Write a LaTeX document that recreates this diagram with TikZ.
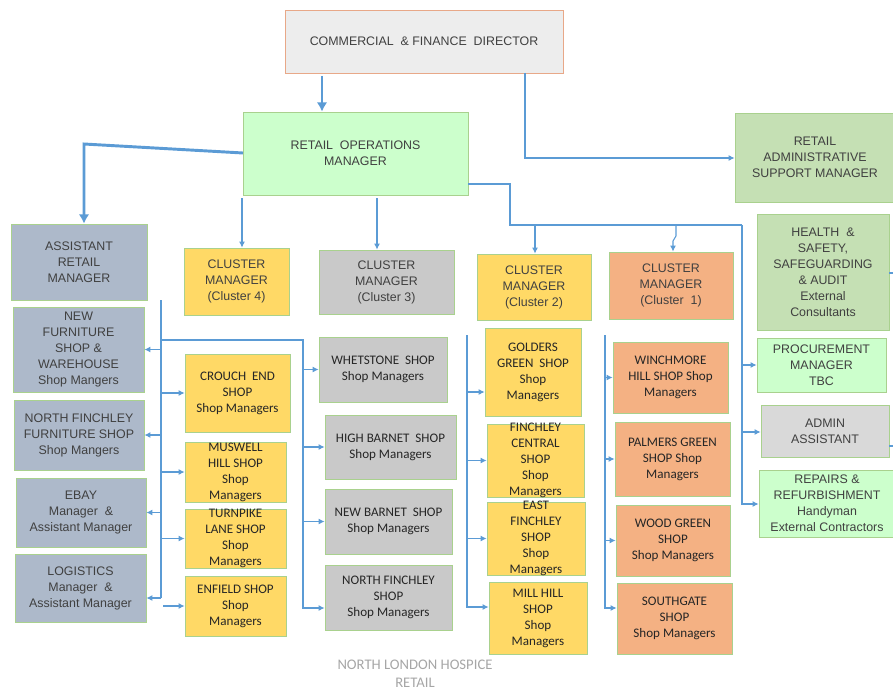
\documentclass[tikz,border=0pt]{standalone}
\usepackage{fontspec}
\setmainfont{Liberation Sans}
\newfontfamily\calf{Carlito}
\usetikzlibrary{arrows.meta,fit,shadows,calc}
\definecolor{lnblue}{HTML}{5B9BD5}
\definecolor{bordgreen}{HTML}{A9D18E}
\definecolor{bordorange}{HTML}{E8A888}
\definecolor{cfdfill}{HTML}{EDEDED}
\definecolor{mint}{HTML}{CCFFCC}
\definecolor{sage}{HTML}{C5E0B4}
\definecolor{slate}{HTML}{ADB9CA}
\definecolor{gold}{HTML}{FFD966}
\definecolor{midgray}{HTML}{C9C9C9}
\definecolor{peach}{HTML}{F4B183}
\definecolor{lightgray}{HTML}{D9D9D9}
\definecolor{txtgray}{HTML}{404040}
\definecolor{txtdark}{HTML}{262626}
\definecolor{foottxt}{HTML}{A6A6A6}
\tikzset{
  box/.style={draw=bordgreen, line width=0.6pt, inner sep=0pt,
    drop shadow={opacity=0.25, shadow xshift=0.9pt, shadow yshift=-0.9pt}},
  lbl/.style={align=center, text=txtgray, font=\fontsize{9.3}{12}\selectfont, inner sep=0pt},
  shoplbl/.style={align=center, text=txtdark, font=\calf\fontsize{9.8}{12}\selectfont, inner sep=0pt},
  ln/.style={draw=lnblue, line width=0.8pt},
  arr/.style={draw=lnblue, line width=0.8pt, -{Latex[length=4.5pt,width=4.5pt]}},
  thk/.style={draw=lnblue, line width=2.2pt, -{Latex[length=7pt,width=8pt]}},
}
\newcommand\orgbox[8]{%
  \node[box, fill=#2, fit={(#3,#4)(#5,#6)}] (#1) {};
  \node[#7] (#1-t) at (#1.center) {#8};
}
\begin{document}
\begin{tikzpicture}[x=0.75pt,y=-0.75pt]
\useasboundingbox (0,0) rectangle (893,692);

% top
\node[box, draw=bordorange, fill=cfdfill, fit={(285,10)(563,73)}] (CFD) {};
\node[lbl] (CFD-t) at (CFD.center) {COMMERCIAL \ \& FINANCE \ DIRECTOR};
\orgbox{ROM}{mint}{243}{112}{468}{195}{lbl}{RETAIL \ OPERATIONS\\MANAGER}
\orgbox{RASM}{sage}{735}{113}{895}{202}{lbl}{RETAIL\\ADMINISTRATIVE\\SUPPORT MANAGER}

% left column
\orgbox{ARM}{slate}{11}{224}{147}{300}{lbl}{ASSISTANT\\RETAIL\\MANAGER}
\orgbox{NFSW}{slate}{13}{307}{144}{392}{lbl}{NEW\\FURNITURE\\SHOP \&\\WAREHOUSE\\Shop Mangers}
\orgbox{NFFS}{slate}{14}{400}{144}{470}{lbl}{NORTH FINCHLEY\\FURNITURE SHOP\\Shop Mangers}
\orgbox{EBAY}{slate}{16}{478}{146}{547}{lbl}{EBAY\\Manager \ \&\\Assistant Manager}
\orgbox{LOG}{slate}{15}{554}{146}{622}{lbl}{LOGISTICS\\Manager \ \&\\Assistant Manager}

% cluster 4
\orgbox{C4}{gold}{184}{248}{289}{315}{lbl}{CLUSTER\\MANAGER\\(Cluster 4)}
\orgbox{CE}{gold}{185}{354}{290}{432}{shoplbl}{CROUCH \ END\\SHOP\\Shop Managers}
\orgbox{MH}{gold}{185}{442}{286}{502}{shoplbl}{MUSWELL\\HILL SHOP\\Shop\\Managers}
\orgbox{TL}{gold}{185}{509}{286}{568}{shoplbl}{TURNPIKE\\LANE SHOP\\Shop\\Managers}
\orgbox{EN}{gold}{185}{576}{286}{636}{shoplbl}{ENFIELD SHOP\\Shop\\Managers}

% cluster 3
\orgbox{C3}{midgray}{319}{250}{454}{314}{lbl}{CLUSTER\\MANAGER\\(Cluster 3)}
\orgbox{WH}{midgray}{319}{337}{447}{402}{shoplbl}{WHETSTONE \ SHOP\\Shop Managers}
\orgbox{HB}{midgray}{325}{415}{456}{479}{shoplbl}{HIGH BARNET \ SHOP\\Shop Managers}
\orgbox{NB}{midgray}{325}{489}{452}{554}{shoplbl}{NEW BARNET \ SHOP\\Shop Managers}
\orgbox{NFS}{midgray}{325}{565}{452}{630}{shoplbl}{NORTH FINCHLEY\\SHOP\\Shop Managers}

% cluster 2
\orgbox{C2}{gold}{477}{254}{591}{320}{lbl}{CLUSTER\\MANAGER\\(Cluster 2)}
\orgbox{GG}{gold}{485}{328}{581}{416}{shoplbl}{GOLDERS\\GREEN \ SHOP\\Shop\\Managers}
\orgbox{FC}{gold}{487}{424}{584}{497}{shoplbl}{FINCHLEY\\CENTRAL\\SHOP\\Shop\\Managers}
\orgbox{EF}{gold}{487}{502}{585}{575}{shoplbl}{EAST\\FINCHLEY\\SHOP\\Shop\\Managers}
\orgbox{MI}{gold}{489}{582}{587}{654}{shoplbl}{MILL HILL\\SHOP\\Shop\\Managers}

% cluster 1
\orgbox{C1}{peach}{609}{252}{733}{319}{lbl}{CLUSTER\\MANAGER\\(Cluster \ 1)}
\orgbox{WI}{peach}{613}{342}{728}{413}{shoplbl}{WINCHMORE\\HILL SHOP Shop\\Managers}
\orgbox{PG}{peach}{615}{422}{730}{496}{shoplbl}{PALMERS GREEN\\SHOP Shop\\Managers}
\orgbox{WG}{peach}{616}{505}{730}{576}{shoplbl}{WOOD GREEN\\SHOP\\Shop Managers}
\orgbox{SG}{peach}{617}{583}{732}{654}{shoplbl}{SOUTHGATE\\SHOP\\Shop Managers}

% right column
\orgbox{HS}{sage}{757}{214}{889}{330}{lbl}{HEALTH \ \&\\SAFETY,\\SAFEGUARDING\\\& AUDIT\\External\\Consultants}
\orgbox{PM}{mint}{757}{338}{886}{392}{lbl}{PROCUREMENT\\MANAGER\\TBC}
\orgbox{AA}{lightgray}{761}{405}{889}{457}{lbl}{ADMIN\\ASSISTANT}
\orgbox{RR}{mint}{759}{470}{895}{537}{lbl}{REPAIRS \&\\REFURBISHMENT\\Handyman\\External Contractors}

% footer
\node[align=center, text=foottxt, font=\calf\fontsize{11}{13.5}\selectfont, inner sep=0pt] (foot) at (415,674) {NORTH LONDON HOSPICE\\RETAIL};

% ---------- connectors ----------
% thick ones
\coordinate (t1) at (322,76);
\draw[thk] (t1) -- (t1 |- ROM.north);
\coordinate (t2) at (243,153);
\coordinate (t3) at (84,144);
\draw[thk] (t2) -- (t3) -- (t3 |- ARM.north);

% CFD -> RASM
\coordinate (r1) at (525,73);
\coordinate (r2) at (525,158);
\draw[arr] (r1) -- (r2) -- (r2 -| RASM.west);

% ROM -> C4, C3
\coordinate (c4a) at (242,198);
\draw[arr] (c4a) -- (c4a |- C4.north);
\coordinate (c3a) at (377,198);
\draw[arr] (c3a) -- (c3a |- C3.north);

% ROM -> branch to C2, C1, right column
\coordinate (b1) at (468,184);
\coordinate (b2) at (510,184);
\coordinate (b3) at (510,225);
\coordinate (b4) at (742,225);
\coordinate (b5) at (742,504);
\draw[ln] (b1) -- (b2) -- (b3) -- (b4);
\coordinate (c2a) at (535,225);
\draw[arr] (c2a) -- (c2a |- C2.north);
\coordinate (c1a) at (676,225);
\coordinate (c1b) at (676,236);
\coordinate (c1c) at (673,241);
\draw[arr] (c1a) -- (c1b) -- (c1c) -- (c1c |- C1.north);
\draw[arr] (b4) -- (b5) -- (RR.west |- b5);
\draw[arr] (PM -| b4) -- (PM.west);
\coordinate (aay) at (742,432);
\draw[arr] (aay) -- (aay -| AA.west);

% right edge stubs
\coordinate (hs1) at (893,273);
\draw[ln] (hs1 -| HS.east) -- (hs1);
\coordinate (aa1) at (893,446);
\draw[ln] (aa1 -| AA.east) -- (aa1);

% left trunk
\coordinate (L1) at (161,300);
\coordinate (L2) at (161,598);
\draw[ln] (L1) -- (L2);
\draw[arr] (NFSW -| L1) -- (NFSW.east);
\draw[arr] (NFFS -| L1) -- (NFFS.east);
\draw[arr] (EBAY -| L1) -- (EBAY.east);
\draw[arr] (L2) -- (L2 -| LOG.east);
\draw[arr] (CE -| L1) -- (CE.west);
\draw[arr] (MH -| L1) -- (MH.west);
\draw[arr] (TL -| L1) -- (TL.west);
\coordinate (en1) at (163,606);
\draw[arr] (en1) -- (en1 -| EN.west);

% cluster 3 trunk
\coordinate (k1) at (161,340);
\coordinate (k2) at (303,340);
\coordinate (k3) at (303,608);
\draw[arr] (k1) -- (k2) -- (k3) -- (k3 -| NFS.west);
\draw[arr] (WH -| k2) -- (WH.west);
\draw[arr] (HB -| k2) -- (HB.west);
\draw[arr] (NB -| k2) -- (NB.west);

% cluster 2 trunk
\coordinate (m1) at (467,335);
\coordinate (m2) at (467,607);
\draw[arr] (m1) -- (m2) -- (m2 -| MI.west);
\coordinate (gg1) at (467,392);
\draw[arr] (gg1) -- (gg1 -| GG.west);
\draw[arr] (FC -| m1) -- (FC.west);
\draw[arr] (EF -| m1) -- (EF.west);

% cluster 1 trunk
\coordinate (n1) at (605,335);
\coordinate (n2) at (605,608);
\draw[arr] (n1) -- (n2) -- (n2 -| SG.west);
\draw[arr] (WI -| n1) -- (WI.west);
\draw[arr] (PG -| n1) -- (PG.west);
\draw[arr] (WG -| n1) -- (WG.west);
\end{tikzpicture}
\end{document}
